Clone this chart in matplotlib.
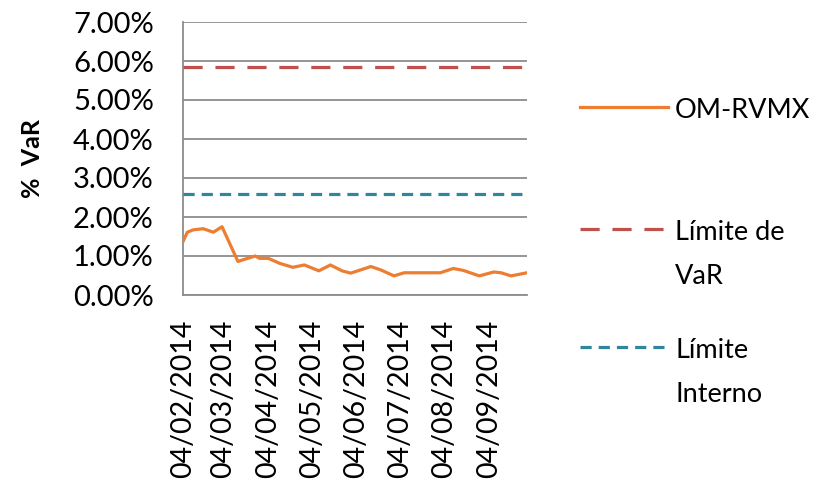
import datetime as dt
import matplotlib
matplotlib.use('Agg')
import matplotlib.pyplot as plt
import matplotlib.dates as mdates
from matplotlib.lines import Line2D
from matplotlib.ticker import FuncFormatter

# datos
fechas = ['2014-02-04', '2014-02-07', '2014-02-11', '2014-02-18', '2014-02-25',
          '2014-03-03', '2014-03-14', '2014-03-19', '2014-03-26', '2014-03-29',
          '2014-04-04', '2014-04-12', '2014-04-21', '2014-04-29', '2014-05-09',
          '2014-05-17', '2014-05-25', '2014-05-31', '2014-06-14', '2014-06-21',
          '2014-06-30', '2014-07-07', '2014-08-01', '2014-08-10', '2014-08-17',
          '2014-08-28', '2014-09-07', '2014-09-12', '2014-09-19', '2014-09-30']
var_omrvmx = [1.37, 1.61, 1.67, 1.70, 1.61, 1.75, 0.86, 0.92, 1.00, 0.94,
              0.94, 0.81, 0.71, 0.77, 0.62, 0.77, 0.62, 0.56, 0.73, 0.64,
              0.49, 0.57, 0.57, 0.68, 0.63, 0.49, 0.59, 0.57, 0.49, 0.57]
limite_var = 5.85
limite_interno = 2.6
ticks_x = ['2014-02-04', '2014-03-04', '2014-04-04', '2014-05-04',
           '2014-06-04', '2014-07-04', '2014-08-04', '2014-09-04']
leyenda = [['OM-RVMX'], ['Límite de', 'VaR'], ['Límite', 'Interno']]

plt.rcParams['font.family'] = ['Lato', 'DejaVu Sans']

x = [dt.datetime.strptime(f, '%Y-%m-%d') for f in fechas]
x0, x1 = x[0], x[-1]

W, H = 821, 484
fig = plt.figure(figsize=(W / 100, H / 100), dpi=100)
ax = fig.add_axes([183 / W, 1 - 295 / H, (527 - 183) / W, (295 - 22) / H])

colores = ['#ED7D31', '#C0504D', '#31859C']
estilos = [None, (6, 4), (3.5, 2.2)]

ax.plot(x, var_omrvmx, color=colores[0], lw=2.3, zorder=3)
ax.plot([x0, x1], [limite_var, limite_var], color=colores[1], lw=2.3,
        dashes=estilos[1], zorder=3)
ax.plot([x0, x1], [limite_interno, limite_interno], color=colores[2], lw=2.3,
        dashes=estilos[2], zorder=3)

ax.set_xlim(x0, x1)
ax.set_ylim(0, 7)
ax.set_yticks(range(8))
ax.yaxis.set_major_formatter(FuncFormatter(lambda v, p: '%.2f%%' % v))
ax.grid(axis='y', color='#8c8c8c', lw=1.3)
ax.set_axisbelow(True)

ax.set_xticks([dt.datetime.strptime(t, '%Y-%m-%d') for t in ticks_x])
ax.xaxis.set_major_formatter(mdates.DateFormatter('%d/%m/%Y'))
plt.setp(ax.get_xticklabels(), rotation=90)
ax.tick_params(axis='x', labelsize=20.5, length=0, pad=18)
ax.tick_params(axis='y', labelsize=21, length=0, pad=21)

for s in ['top', 'right']:
    ax.spines[s].set_visible(False)
for s in ['left', 'bottom']:
    ax.spines[s].set_color('#8c8c8c')
    ax.spines[s].set_linewidth(1.3)

ax.set_ylabel('%  VaR', fontsize=18, fontweight='bold', labelpad=21)

# leyenda a mano: la linea va alineada con la primera linea del texto
ys = [107, 229, 347]
for i, lineas in enumerate(leyenda):
    y = 1 - ys[i] / H
    ln = Line2D([580 / W, 668 / W], [y, y], transform=fig.transFigure,
                color=colores[i], lw=2.3)
    if estilos[i]:
        ln.set_dashes(estilos[i])
    fig.add_artist(ln)
    for j, t in enumerate(lineas):
        fig.text(675 / W, 1 - (ys[i] + 4 + 43 * j) / H, t, fontsize=19.5,
                 va='center', ha='left')

fig.savefig('out.png', dpi=100)
